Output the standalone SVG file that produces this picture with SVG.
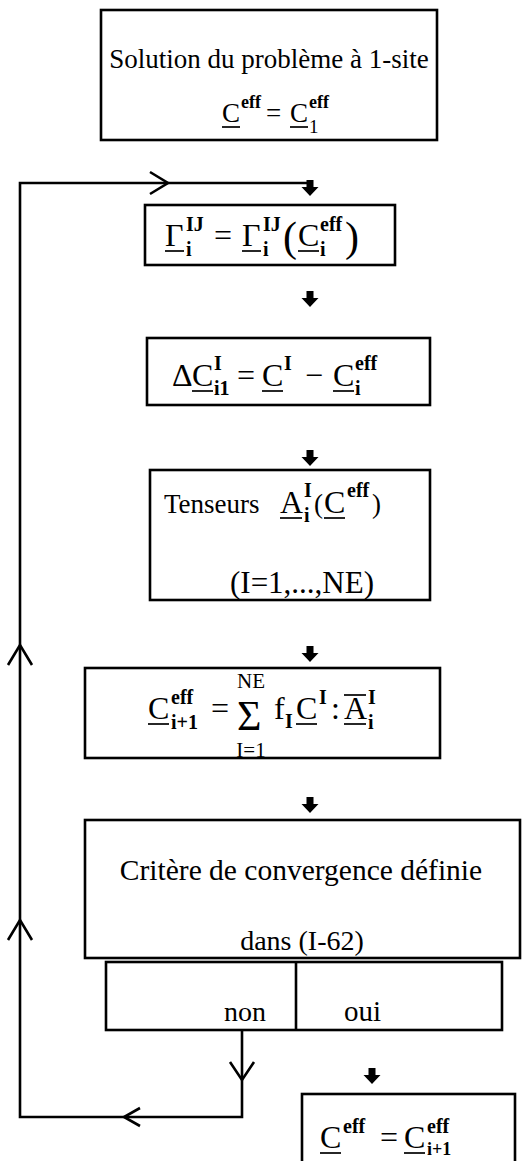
<svg xmlns="http://www.w3.org/2000/svg" width="528" height="1161" viewBox="0 0 528 1161">
<style>
.box{fill:none;stroke:#000;stroke-width:2.6}
.ln{fill:none;stroke:#000;stroke-width:2.6}
.chev{fill:none;stroke:#000;stroke-width:2.6}
.ul{stroke:#000;stroke-width:1.7}
.t{font-family:"Liberation Serif","Times New Roman",serif;font-size:27px;fill:#000}
.m{font-family:"Liberation Serif","Times New Roman",serif;font-size:32px;fill:#000}
.s{font-family:"Liberation Serif","Times New Roman",serif;font-size:20px;font-weight:bold;fill:#000}
.r{font-family:"Liberation Serif","Times New Roman",serif;font-size:21px;fill:#000}
.p{font-family:"Liberation Serif","Times New Roman",serif;font-size:42px;fill:#000}
</style>
<defs>
<path id="dn" d="M-3.5,0 h7 v7 h5 l-8.5,9 l-8.5,-9 h5 z" fill="#000"/>
</defs>
<rect width="528" height="1161" fill="#fff"/>

<g id="connectors">
<polyline class="ln" points="310,183 20,183 20,1117 242,1117 242,1030"/>
<polyline class="chev" points="150,172 168,183 150,194"/>
<polyline class="chev" points="8,665 20,645 32,665"/>
<polyline class="chev" points="8,940 20,920 32,940"/>
<polyline class="chev" points="140,1108 124,1117 140,1126"/>
<polyline class="chev" points="230,1062 242,1080 254,1062"/>
<use href="#dn" x="310" y="180"/>
<use href="#dn" x="310" y="291"/>
<use href="#dn" x="310" y="450"/>
<use href="#dn" x="310" y="646"/>
<use href="#dn" x="310" y="797"/>
<use href="#dn" x="372" y="1068"/>
</g>

<g id="n1">
<rect class="box" x="101" y="10" width="336" height="130"/>
<text class="t" x="269" y="68" text-anchor="middle">Solution du problème à 1-site</text>
<text class="t" x="222" y="122">C</text><line class="ul" x1="222" y1="127" x2="240" y2="127"/>
<text class="s" x="241" y="108" style="font-size:18px">eff</text>
<text class="t" x="266" y="122">=</text>
<text class="t" x="290" y="122">C</text><line class="ul" x1="290" y1="127" x2="308" y2="127"/>
<text class="s" x="309" y="133" style="font-size:19px;font-weight:normal">1</text>
<text class="s" x="309" y="108" style="font-size:18px">eff</text>
</g>

<g id="n2">
<rect class="box" x="145" y="205" width="250" height="60"/>
<text class="m" x="165" y="246">Γ</text><line class="ul" x1="165" y1="251" x2="184" y2="251"/>
<text class="s" x="186" y="256">i</text><text class="s" x="186" y="231">IJ</text>
<text class="m" x="214" y="246">=</text>
<text class="m" x="242" y="246">Γ</text><line class="ul" x1="242" y1="251" x2="261" y2="251"/>
<text class="s" x="263" y="256">i</text><text class="s" x="263" y="231">IJ</text>
<text class="p" x="283" y="251">(</text>
<text class="m" x="298" y="246">C</text><line class="ul" x1="298" y1="251" x2="319" y2="251"/>
<text class="s" x="320" y="256">i</text><text class="s" x="320" y="231">eff</text>
<text class="p" x="345" y="251">)</text>
</g>

<g id="n3">
<rect class="box" x="147" y="338" width="283" height="67"/>
<text class="m" x="172" y="386">Δ</text>
<text class="m" x="192" y="386">C</text><line class="ul" x1="192" y1="391" x2="213" y2="391"/>
<text class="s" x="214" y="395">i1</text><text class="s" x="214" y="370">I</text>
<text class="m" x="237" y="386">=</text>
<text class="m" x="262" y="386">C</text><line class="ul" x1="262" y1="391" x2="283" y2="391"/>
<text class="s" x="284" y="370">I</text>
<text class="m" x="305" y="386">−</text>
<text class="m" x="333" y="386">C</text><line class="ul" x1="333" y1="391" x2="354" y2="391"/>
<text class="s" x="355" y="395">i</text><text class="s" x="355" y="370">eff</text>
</g>

<g id="n4">
<rect class="box" x="150" y="470" width="280" height="130"/>
<text class="t" x="164" y="513">Tenseurs</text>
<text class="m" x="280" y="513">A</text><line class="ul" x1="280" y1="518" x2="302" y2="518"/>
<text class="s" x="304" y="522">i</text><text class="s" x="304" y="497">I</text>
<text class="t" x="314" y="513">(</text>
<text class="m" x="324" y="513">C</text><line class="ul" x1="324" y1="518" x2="345" y2="518"/>
<text class="s" x="347" y="497">eff</text>
<text class="t" x="372" y="513">)</text>
<text class="t" x="302" y="593" text-anchor="middle" style="font-size:31px">(I=1,...,NE)</text>
</g>

<g id="n5">
<rect class="box" x="85" y="668" width="355" height="90"/>
<text class="m" x="148" y="719">C</text><line class="ul" x1="148" y1="724" x2="169" y2="724"/>
<text class="s" x="171" y="729">i+1</text><text class="s" x="171" y="704">eff</text>
<text class="m" x="211" y="719">=</text>
<text class="m" x="237" y="730" style="font-size:42px">Σ</text>
<text class="r" x="251" y="688" text-anchor="middle">NE</text>
<text class="r" x="251" y="757" text-anchor="middle">I=1</text>
<text class="m" x="274" y="719">f</text>
<text class="s" x="285" y="728">I</text>
<text class="m" x="296" y="719">C</text><line class="ul" x1="296" y1="724" x2="317" y2="724"/>
<text class="s" x="319" y="704">I</text>
<text class="m" x="331" y="719">:</text>
<text class="m" x="344" y="719">A</text><line class="ul" x1="344" y1="724" x2="366" y2="724"/><line class="ul" x1="344" y1="695" x2="366" y2="695"/>
<text class="s" x="368" y="729">i</text><text class="s" x="368" y="704">I</text>
</g>

<g id="n6">
<rect class="box" x="85" y="820" width="435" height="138"/>
<text class="t" x="301" y="880" text-anchor="middle" style="font-size:29.5px">Critère de convergence définie</text>
<text class="t" x="302" y="950" text-anchor="middle" style="font-size:28px">dans (I-62)</text>
</g>

<g id="n7">
<rect class="box" x="106" y="962" width="396" height="68"/>
<line class="ln" x1="296" y1="962" x2="296" y2="1030"/>
<text class="t" x="266" y="1021" text-anchor="end" style="font-size:28px">non</text>
<text class="t" x="344" y="1021" style="font-size:29px">oui</text>
</g>

<g id="n8">
<rect class="box" x="302" y="1094" width="213" height="80"/>
<text class="m" x="320" y="1148">C</text><line class="ul" x1="320" y1="1153" x2="341" y2="1153"/>
<text class="s" x="343" y="1133">eff</text>
<text class="m" x="380" y="1148">=</text>
<text class="m" x="404" y="1148">C</text><line class="ul" x1="404" y1="1153" x2="425" y2="1153"/>
<text class="s" x="427" y="1155" style="font-size:18px">i+1</text><text class="s" x="427" y="1133">eff</text>
</g>
</svg>
